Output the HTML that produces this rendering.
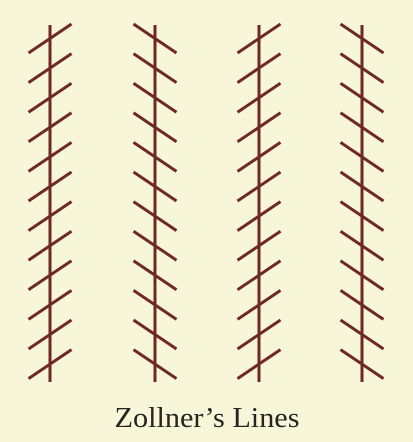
<!DOCTYPE html>
<html><head><meta charset="utf-8"><style>
html,body{margin:0;padding:0;background:#f8f6d9;}
svg{display:block;}
</style></head><body>
<svg width="413" height="442" viewBox="0 0 413 442">
<rect width="413" height="442" fill="#f8f6d9"/>
<g id="lines" stroke="#6e2a22" stroke-width="3" stroke-linecap="butt"></g>
<text x="207" y="427" text-anchor="middle" textLength="185" lengthAdjust="spacingAndGlyphs" font-family="'Liberation Serif', serif" font-size="29" fill="#262420">Zollner’s Lines</text>
</svg>
<script>
const columns = [50, 155, 259, 362];
const directions = [1, -1, 1, -1];
const hatchCount = 12;
const g = document.getElementById('lines');
const NS = 'http://www.w3.org/2000/svg';
columns.forEach((cx, i) => {
  const v = document.createElementNS(NS, 'line');
  v.setAttribute('x1', cx); v.setAttribute('x2', cx);
  v.setAttribute('y1', 25); v.setAttribute('y2', 382);
  
  
  g.appendChild(v);
  for (let k = 0; k < hatchCount; k++) {
    const cy = 38.5 + k * 29.6;
    const d = directions[i];
    const h = document.createElementNS(NS, 'line');
    h.setAttribute('x1', cx - 21.5); h.setAttribute('x2', cx + 21.5);
    h.setAttribute('y1', cy + d * 14.5); h.setAttribute('y2', cy - d * 14.5);
    
    
    g.appendChild(h);
  }
});
</script>
</body></html>
